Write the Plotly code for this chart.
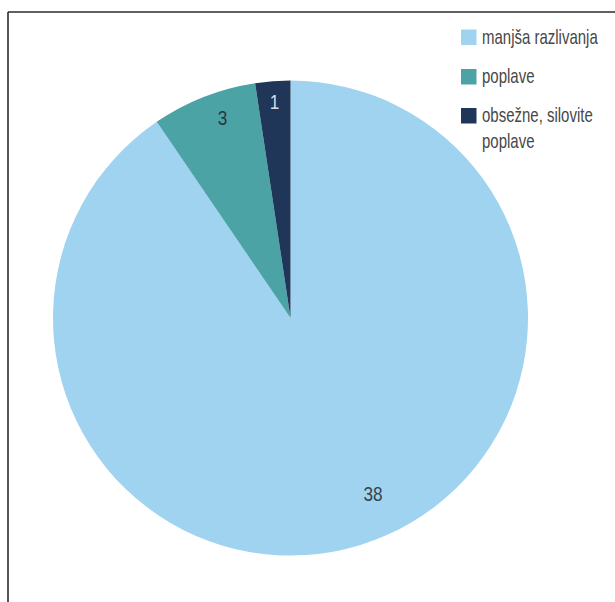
import math
import plotly.graph_objects as go

# Flood event categories and counts
categories = ["manjša razlivanja", "poplave", "obsežne, silovite poplave"]
legend_labels = ["manjša razlivanja", "poplave", "obsežne, silovite<br>poplave"]
counts = [38, 3, 1]
colors = ["#9fd3f0", "#4ba3a6", "#1f3658"]
label_colors = ["#34434c", "#25393b", "#d6dde6"]

W, H = 615, 602
FONT = "Liberation Sans, Arial, sans-serif"

# pie geometry in pixels
cx, cy, R = 290.5, 318.0, 237.5

fig = go.Figure(
    go.Pie(
        labels=categories,
        values=counts,
        marker=dict(colors=colors, line=dict(width=0)),
        sort=False,
        direction="clockwise",
        rotation=0,
        textinfo="none",
        hoverinfo="label+value",
        showlegend=False,
        domain=dict(
            x=[(cx - R) / W, (cx + R) / W],
            y=[1 - (cy + R) / H, 1 - (cy - R) / H],
        ),
    )
)

# value labels placed along each slice's mid-angle
radius_frac = [0.82, 0.89, 0.91]
angle_nudge = [-8.0, 2.6, 0.0]
total = sum(counts)
start = 0.0
annotations = []
for i, v in enumerate(counts):
    sweep = v / total * 360.0
    mid = math.radians(start + sweep / 2 + angle_nudge[i])
    start += sweep
    px = cx + radius_frac[i] * R * math.sin(mid)
    py = cy - radius_frac[i] * R * math.cos(mid)
    annotations.append(dict(
        x=px / W, y=1 - py / H, xref="paper", yref="paper",
        text=str(v), showarrow=False, xanchor="center", yanchor="middle",
        font=dict(family=FONT, size=20, color=label_colors[i]),
    ))

# legend: swatches with labels at the upper right
sw_x0, sw_size = 461, 15.5
sw_tops = [29.5, 69.0, 108.0]
shapes = []
for i, lab in enumerate(legend_labels):
    top = sw_tops[i]
    shapes.append(dict(
        type="rect", xref="paper", yref="paper",
        x0=sw_x0 / W, x1=(sw_x0 + sw_size) / W,
        y0=1 - (top + sw_size) / H, y1=1 - top / H,
        fillcolor=colors[i], line=dict(width=0),
    ))
    annotations.append(dict(
        x=480 / W, y=1 - (top - 6) / H, xref="paper", yref="paper",
        text=lab, showarrow=False, xanchor="left", yanchor="top", align="left",
        font=dict(family=FONT, size=20, color="#474747"),
    ))

# frame lines along the top and left
shapes.append(dict(type="line", xref="paper", yref="paper",
                   x0=8 / W, x1=1, y0=1 - 12 / H, y1=1 - 12 / H,
                   line=dict(color="#2b2b2b", width=1.6)))
shapes.append(dict(type="line", xref="paper", yref="paper",
                   x0=8 / W, x1=8 / W, y0=0, y1=1 - 12 / H,
                   line=dict(color="#2b2b2b", width=1.6)))

fig.update_layout(
    width=W, height=H,
    margin=dict(l=0, r=0, t=0, b=0),
    paper_bgcolor="white",
    plot_bgcolor="white",
    annotations=annotations,
    shapes=shapes,
)

# narrow the text horizontally to a condensed look
condense_js = """
var gd = document.getElementById('{plot_id}');
function condense() {
  gd.querySelectorAll('g.annotation').forEach(function (g) {
    var idx = parseInt(g.getAttribute('data-index'), 10);
    var t = g.querySelector('text.annotation-text');
    if (!t) return;
    t.style.transformBox = 'fill-box';
    t.style.transformOrigin = (idx < 3 ? 'center' : 'left') + ' center';
    t.style.transform = 'scaleX(' + (idx < 3 ? 0.86 : 0.75) + ')';
  });
}
condense();
gd.on('plotly_afterplot', condense);
"""

fig.write_html("out.html", post_script=condense_js)
